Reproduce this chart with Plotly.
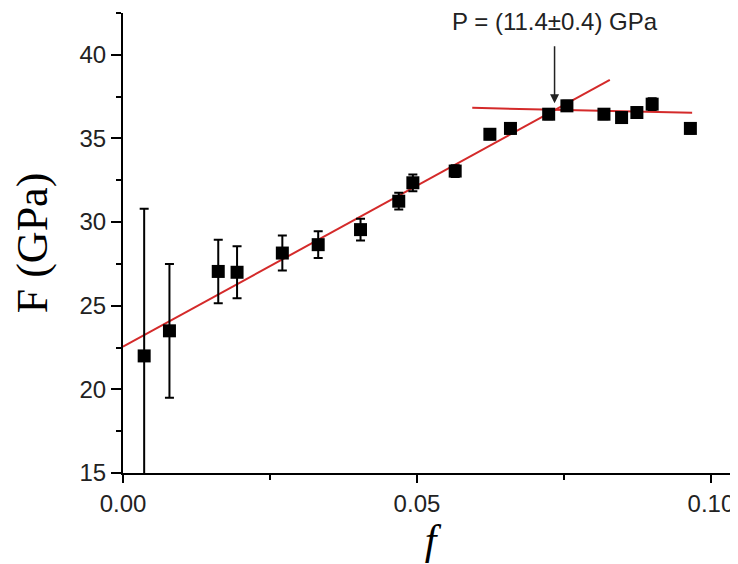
import plotly.graph_objects as go

# Data
f_vals = [0.0036, 0.0079, 0.0162, 0.0194, 0.0271, 0.0332, 0.0404, 0.0469, 0.0493,
          0.0565, 0.0624, 0.0659, 0.0724, 0.0755, 0.0818, 0.0848, 0.0874, 0.0900, 0.0965]
F_vals = [22.0, 23.5, 27.05, 27.0, 28.15, 28.65, 29.55, 31.25, 32.35,
          33.05, 35.25, 35.6, 36.45, 36.95, 36.45, 36.25, 36.55, 37.05, 35.6]
F_err = [8.8, 4.0, 1.9, 1.55, 1.05, 0.8, 0.65, 0.5, 0.5,
         0.35, 0.3, 0.3, 0.3, 0.3, 0.3, 0.3, 0.3, 0.35, 0.3]

# Linear fits (end points)
fit1_f = [0.0, 0.0828]
fit1_F = [22.55, 38.5]
fit2_f = [0.0594, 0.0968]
fit2_F = [36.83, 36.53]

# Transition point annotation
p_label = "P = (11.4±0.4) GPa"
p_f = 0.0734
p_tip = 37.1
p_tail = 40.6
p_text_F = 42.0

x_ticks = [0.0, 0.05, 0.10]
x_ticklabels = ["0.00", "0.05", "0.10"]
y_ticks = [15, 20, 25, 30, 35, 40]

red = "#d42a2a"

fig = go.Figure()
fig.add_trace(go.Scatter(x=fit1_f, y=fit1_F, mode="lines",
                         line=dict(color=red, width=2), showlegend=False, hoverinfo="skip"))
fig.add_trace(go.Scatter(x=fit2_f, y=fit2_F, mode="lines",
                         line=dict(color=red, width=2), showlegend=False, hoverinfo="skip"))
fig.add_trace(go.Scatter(
    x=f_vals, y=F_vals, mode="markers",
    marker=dict(symbol="square", size=13, color="black"),
    error_y=dict(type="data", array=F_err, visible=True, color="black",
                 thickness=2, width=4.5),
    showlegend=False, cliponaxis=True))

fig.add_annotation(x=p_f, y=p_text_F, xref="x", yref="y", text=p_label,
                   showarrow=False, font=dict(family="Liberation Sans", size=24, color="#222"),
                   xanchor="center", yanchor="middle")
fig.add_annotation(x=p_f, y=p_tip, xref="x", yref="y", ax=p_f, ay=p_tail,
                   axref="x", ayref="y", text="", showarrow=True,
                   arrowhead=2, arrowsize=1.2, arrowwidth=1.5, arrowcolor="#222")

# the page body adds an 8px offset, so the figure is sized to end at the window edge
fig.update_layout(
    width=730, height=556,
    margin=dict(l=115, r=0, t=5, b=91),
    paper_bgcolor="white", plot_bgcolor="white",
    font=dict(family="Liberation Sans", size=24, color="#222"),
)
fig.update_xaxes(
    range=[0, 0.1046], tickvals=x_ticks, ticktext=x_ticklabels, automargin=False,
    showline=True, linecolor="black", linewidth=2, mirror=False,
    ticks="outside", ticklen=8, tickwidth=2, tickcolor="black",
    minor=dict(ticks="outside", ticklen=5, tickwidth=2, tickcolor="black", dtick=0.025, showgrid=False),
    showgrid=False, zeroline=False,
    title=dict(text="<i>f</i>", font=dict(family="Liberation Serif", size=42, color="black"), standoff=2),
)
fig.update_yaxes(
    range=[15, 42.5], tickvals=y_ticks, automargin=False,
    showline=True, linecolor="black", linewidth=2, mirror=False,
    ticks="outside", ticklen=10, tickwidth=2, tickcolor="black",
    minor=dict(ticks="outside", ticklen=5, tickwidth=2, tickcolor="black", dtick=2.5, showgrid=False),
    showgrid=False, zeroline=False,
    title=dict(text="F (GPa)", font=dict(family="Liberation Serif", size=44, color="black"), standoff=27),
)

fig.write_html("out.html")
